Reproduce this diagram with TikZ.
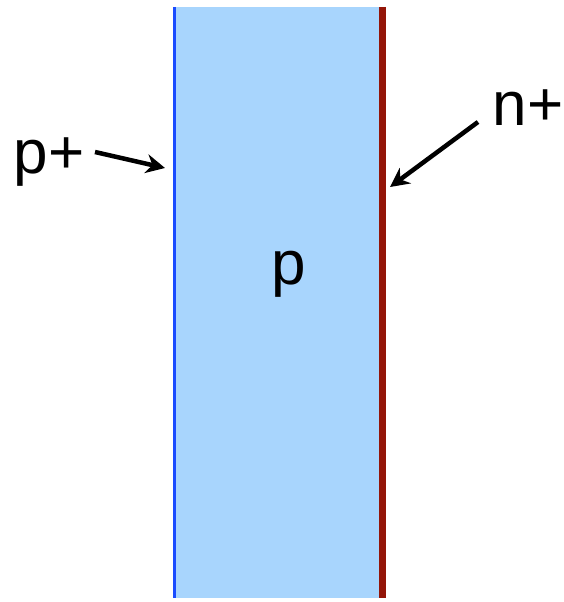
\documentclass[tikz,border=0pt]{standalone}
\usepackage{fontspec}
\setmainfont{Liberation Sans}
\usepackage{xcolor}
\usetikzlibrary{arrows.meta}

\definecolor{bulk}{HTML}{A8D5FD}
\definecolor{pplus}{HTML}{1A4CFF}
\definecolor{nplus}{HTML}{931508}

\tikzset{
  lbl/.style={font=\fontsize{62}{62}\selectfont, inner sep=0pt, anchor=base},
  arr/.style={line width=4.5pt, -{Stealth[length=19pt,width=19pt]}}
}

\begin{document}
\begin{tikzpicture}[x=1pt,y=-1pt]
  \useasboundingbox (0,0) rectangle (564,602);
  \fill[bulk] (174,7) rectangle (382,598);
  \draw[pplus, line width=3pt] (174.5,7) -- (174.5,598);
  \draw[nplus, line width=7pt] (382,7) -- (382,598);
  \node[lbl] (ptype) at (289,284) {p};
  \node[lbl] (pplab) at (49,173) {p+};
  \node[lbl] (nplab) at (528,125) {n+};
  \coordinate (ppfrom) at (95,152);
  \coordinate (pptip) at (165,168);
  \coordinate (npfrom) at (478,122);
  \coordinate (nptip) at (390,187);
  \draw[arr] (ppfrom) -- (pptip);
  \draw[arr] (npfrom) -- (nptip);
\end{tikzpicture}
\end{document}
